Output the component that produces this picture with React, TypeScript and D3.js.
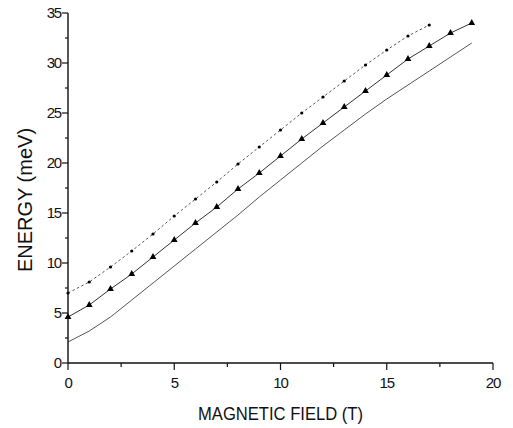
import React from 'react';
import * as d3 from 'd3';

const W = 513;
const H = 428;
const margin = { top: 13, right: 20, bottom: 65, left: 68 };

// magnetic field (T)
const fieldUpper = [0, 1, 2, 3, 4, 5, 6, 7, 8, 9, 10, 11, 12, 13, 14, 15, 16, 17];
const fieldMid = [0, 1, 2, 3, 4, 5, 6, 7, 8, 9, 10, 11, 12, 13, 14, 15, 16, 17, 18, 19];
const fieldLow = [0, 1, 2, 3, 4, 5, 6, 7, 8, 9, 10, 11, 12, 13, 14, 15, 16, 17, 18, 19];

// energy (meV)
const energyUpper = [7.0, 8.1, 9.6, 11.2, 12.9, 14.7, 16.4, 18.1, 19.9, 21.6, 23.3, 25.0, 26.6, 28.2, 29.8, 31.3, 32.7, 33.8];
const energyMid = [4.6, 5.8, 7.4, 8.9, 10.6, 12.3, 14.0, 15.6, 17.4, 19.0, 20.7, 22.4, 24.0, 25.6, 27.2, 28.8, 30.4, 31.7, 33.0, 34.0];
const energyLow = [2.1, 3.2, 4.6, 6.3, 8.0, 9.7, 11.4, 13.1, 14.8, 16.6, 18.3, 20.0, 21.7, 23.3, 24.9, 26.4, 27.8, 29.2, 30.6, 32.0];

const xMajor = [0, 5, 10, 15, 20];
const xMinor = [2.5, 7.5, 12.5, 17.5];
const yMajor = [0, 5, 10, 15, 20, 25, 30, 35];
const yMinor = [2.5, 7.5, 12.5, 17.5, 22.5, 27.5, 32.5];

const font = 'Arial, "Liberation Sans", sans-serif';

function zip(xs: number[], ys: number[]) {
  return xs.map((x, i) => [x, ys[i]] as [number, number]);
}

export default function App() {
  const x = d3.scaleLinear().domain([0, 20]).range([margin.left, W - margin.right]);
  const y = d3.scaleLinear().domain([0, 35]).range([H - margin.bottom, margin.top]);

  const line = d3.line<[number, number]>()
    .x((d) => x(d[0]))
    .y((d) => y(d[1]));

  const upper = zip(fieldUpper, energyUpper);
  const mid = zip(fieldMid, energyMid);
  const low = zip(fieldLow, energyLow);

  const tri = d3.symbol().type(d3.symbolTriangle).size(20)();

  const x0 = x(0);
  const y0 = y(0);

  return (
    <svg width={W} height={H} style={{ position: 'absolute', left: 0, top: 0, background: '#fff' }}>
      {/* series */}
      <path d={line(low) || ''} fill="none" stroke="#555" strokeWidth={1} />
      <path d={line(mid) || ''} fill="none" stroke="#333" strokeWidth={1} />
      <path d={line(upper) || ''} fill="none" stroke="#555" strokeWidth={1} strokeDasharray="2.5,2.5" />

      {mid.map((d, i) => (
        <path key={'t' + i} d={tri || ''} transform={`translate(${x(d[0])},${y(d[1])})`} fill="#000" />
      ))}
      {upper.map((d, i) => (
        <circle key={'c' + i} cx={x(d[0])} cy={y(d[1])} r={1.6} fill="#000" />
      ))}

      {/* axes */}
      <line x1={x0} x2={x0} y1={y(35)} y2={y0} stroke="#111" strokeWidth={1.4} />
      <line x1={x0} x2={x(20)} y1={y0} y2={y0} stroke="#111" strokeWidth={1.4} />

      {yMajor.map((v) => (
        <g key={'ym' + v}>
          <line x1={x0 - 6} x2={x0} y1={y(v)} y2={y(v)} stroke="#111" strokeWidth={1.2} />
          <text x={x0 - 7} y={y(v)} dy="0.36em" textAnchor="end" fontFamily={font} fontSize={15}
            letterSpacing={-1.2} fill="#111">{v}</text>
        </g>
      ))}
      {yMinor.map((v) => (
        <line key={'yn' + v} x1={x0 - 3} x2={x0} y1={y(v)} y2={y(v)} stroke="#111" strokeWidth={1.2} />
      ))}

      {xMajor.map((v) => (
        <g key={'xm' + v}>
          <line x1={x(v)} x2={x(v)} y1={y0} y2={y0 + 7} stroke="#111" strokeWidth={1.2} />
          <text x={x(v)} y={y0 + 25} textAnchor="middle" fontFamily={font} fontSize={15}
            letterSpacing={-1.2} fill="#111">{v}</text>
        </g>
      ))}
      {xMinor.map((v) => (
        <line key={'xn' + v} x1={x(v)} x2={x(v)} y1={y0} y2={y0 + 4} stroke="#111" strokeWidth={1.2} />
      ))}

      {/* titles */}
      <text x={280.5} y={420} textAnchor="middle" fontFamily={font} fontSize={19}
        textLength={165} lengthAdjust="spacingAndGlyphs" fill="#111">MAGNETIC FIELD (T)</text>
      <text transform="translate(32,200) rotate(-90)" textAnchor="middle" fontFamily={font}
        fontSize={20} fill="#111">ENERGY (meV)</text>
    </svg>
  );
}
